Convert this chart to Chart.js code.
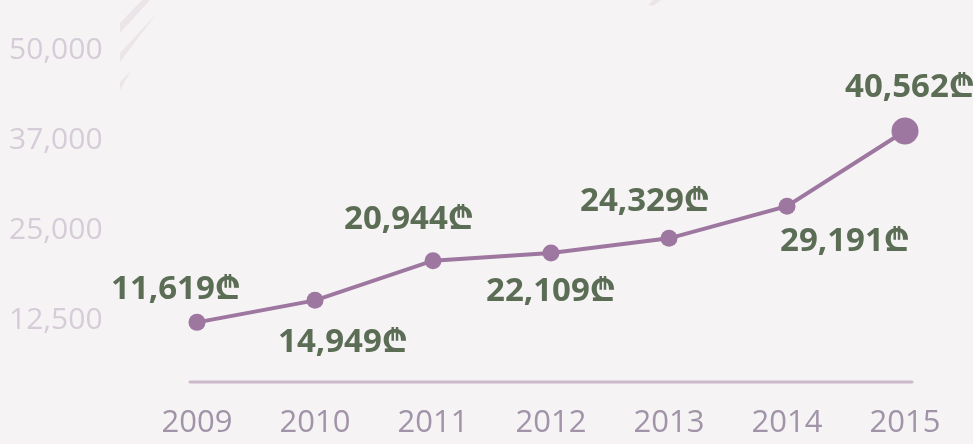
<!DOCTYPE html>
<html>
<head>
<meta charset="utf-8">
<script src="https://cdn.jsdelivr.net/npm/chart.js@4/dist/chart.umd.min.js"></script>
<style>
  html, body { margin: 0; padding: 0; background: #f6f3f4; }
  #wrap { width: 973px; height: 444px; position: relative; }
</style>
</head>
<body>
<div id="wrap"><canvas id="chart"></canvas></div>
<script>
// data
const years = ['2009', '2010', '2011', '2012', '2013', '2014', '2015'];
const amounts = [11619, 14949, 20944, 22109, 24329, 29191, 40562];
const yTickLabels = ['12,500', '25,000', '37,000', '50,000'];
const currency = '\u20BE';

// where each value label sits relative to its point (px)
const labelShift = [
  [-21, -33], [28, 42], [-24, -41], [0, 39], [-24, -37], [58, 35], [5, -43]
];

const FONT = '"Open Sans", "Noto Sans", "DejaVu Sans", sans-serif';
const LINE = '#9d77a0';

// background stripes + baseline + value labels
const decor = {
  id: 'decor',
  beforeDraw(chart) {
    const ctx = chart.ctx;
    ctx.save();
    ctx.fillStyle = '#ebe5e9';
    const stripes = [
      [[120, 23], [142, 0], [150, 0], [120, 33]],
      [[120, 53], [157, 13], [120, 62]],
      [[120, 82], [131, 71], [120, 90]],
      [[648, 5], [653, 0], [661, 0], [653, 6]]
    ];
    stripes.forEach(poly => {
      ctx.beginPath();
      poly.forEach((p, i) => i ? ctx.lineTo(p[0], p[1]) : ctx.moveTo(p[0], p[1]));
      ctx.closePath();
      ctx.fill();
    });
    // baseline under the plot
    const a = chart.chartArea;
    ctx.strokeStyle = '#cbb9cc';
    ctx.lineWidth = 3;
    ctx.lineCap = 'round';
    ctx.beginPath();
    ctx.moveTo(a.left - 7, a.bottom);
    ctx.lineTo(a.right + 7, a.bottom);
    ctx.stroke();
    ctx.restore();
  },
  afterDatasetsDraw(chart) {
    const ctx = chart.ctx;
    const meta = chart.getDatasetMeta(0);
    ctx.save();
    ctx.font = 'bold 33px ' + FONT;
    ctx.fillStyle = '#5b6d55';
    ctx.textAlign = 'center';
    ctx.textBaseline = 'middle';
    meta.data.forEach((pt, i) => {
      const txt = amounts[i].toLocaleString('en-US') + currency;
      ctx.fillText(txt, pt.x + labelShift[i][0], pt.y + labelShift[i][1]);
    });
    ctx.restore();
  }
};

new Chart(document.getElementById('chart'), {
  type: 'line',
  data: {
    labels: years,
    datasets: [{
      data: amounts,
      borderColor: LINE,
      backgroundColor: LINE,
      borderWidth: 4,
      pointRadius: [8.5, 8.5, 8.5, 8.5, 8.5, 8.5, 13.5],
      pointBorderWidth: 0,
      pointBackgroundColor: LINE,
      tension: 0,
      clip: false
    }]
  },
  options: {
    responsive: true,
    maintainAspectRatio: false,
    animation: false,
    layout: { padding: { left: 9, right: 68, top: 10, bottom: 0 } },
    plugins: { legend: { display: false }, tooltip: { enabled: false } },
    scales: {
      x: {
        type: 'category',
        offset: false,
        grid: { display: false, drawTicks: false },
        border: { display: false },
        ticks: { color: '#a194a9', font: { family: FONT, size: 31 }, padding: 23, maxRotation: 0, autoSkip: false },
        afterFit(s) { s.height = 62; }
      },
      y: {
        display: false,
        min: 2600,
        max: 57200
      },
      yLabels: {
        type: 'linear',
        position: 'left',
        min: 0.311,
        max: 4.322,
        grid: { display: false, drawTicks: false },
        border: { display: false },
        ticks: {
          stepSize: 1,
          includeBounds: false,
          crossAlign: 'far',
          color: '#d5ccd7',
          font: { family: FONT, size: 30 },
          callback: (v) => yTickLabels[Math.round(v) - 1] || ''
        },
        afterFit(s) { s.width = 188; }
      }
    }
  },
  plugins: [decor]
});
</script>
</body>
</html>
